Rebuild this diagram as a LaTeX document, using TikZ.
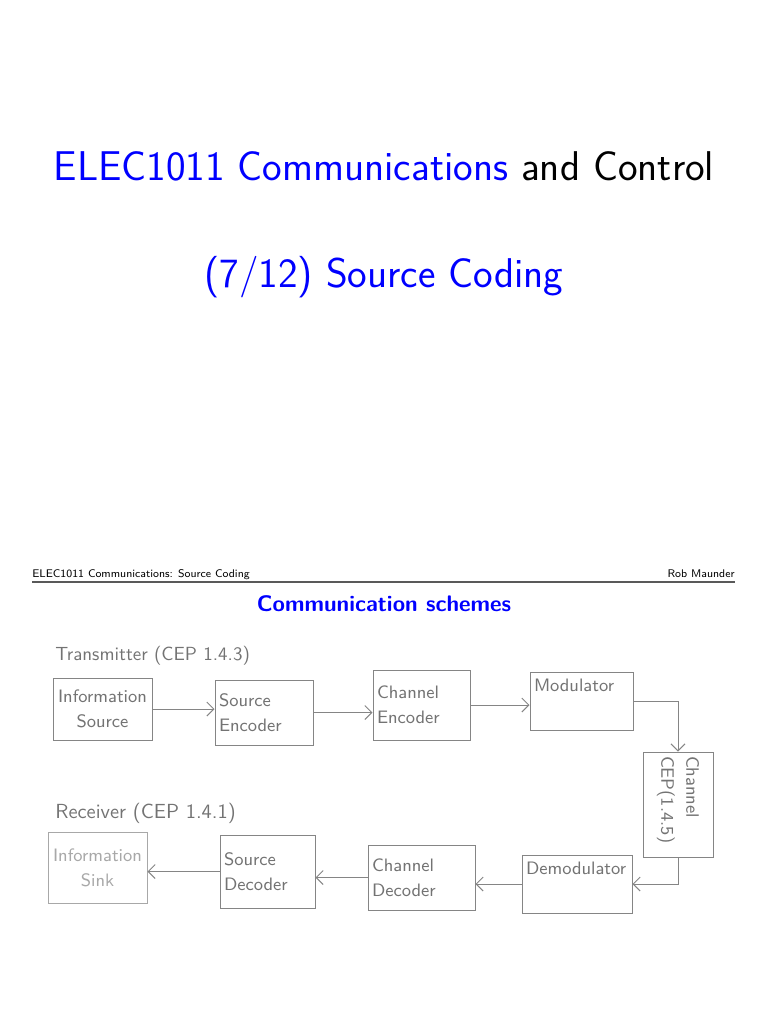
\documentclass[tikz,border=0pt]{standalone}
\usepackage{fontspec}
\usetikzlibrary{positioning,arrows.meta}
\definecolor{judul}{RGB}{0,0,255}
\definecolor{pensil}{gray}{0.45}
\definecolor{garis}{gray}{0.52}
\definecolor{pudar}{gray}{0.66}
\tikzset{
  blok/.style={draw=garis, line width=0.5pt, text=pensil, align=left,
    font=\sffamily\fontsize{9}{12.5}\selectfont, inner sep=2pt},
  panah/.style={-{Straight Barb[length=3.5pt,width=7pt]}, draw=garis, line width=0.5pt},
  tulisan/.style={anchor=base west, inner sep=0pt, text=pensil},
}
\begin{document}
\begin{tikzpicture}[x=0.5pt,y=-0.5pt]
    \useasboundingbox (0,0) rectangle (768,1024);

    % Judul halaman pertama
    \node[anchor=base, font=\sffamily\fontsize{20.8}{24}\selectfont] (judulA) at (384,180)
        {\textcolor{judul}{ELEC1011 Communications} and Control};
    \node[anchor=base, text=judul, font=\sffamily\fontsize{20.8}{24}\selectfont] (judulB) at (384,287)
        {(7/12) Source Coding};

    % Kepala halaman kedua
    \node[anchor=base west, inner sep=0pt, font=\sffamily\fontsize{5.55}{7}\selectfont] (kepKiri) at (32,577)
        {ELEC1011 Communications: Source Coding};
    \node[anchor=base east, inner sep=0pt, font=\sffamily\fontsize{5.55}{7}\selectfont] (kepKanan) at (735,577)
        {Rob Maunder};
    \draw[line width=0.8pt, black!65] (32,582) -- (735,582);
    \node[anchor=base, text=judul, font=\sffamily\bfseries\fontsize{11.25}{13}\selectfont] (judulC) at (384,611)
        {Communication schemes};

    % Tulisan tangan
    \node[tulisan, font=\sffamily\fontsize{9.5}{12}\selectfont] (tx) at (55,660) {Transmitter (CEP 1.4.3)};
    \node[tulisan, font=\sffamily\fontsize{10.2}{12}\selectfont] (rx) at (55,818) {Receiver (CEP 1.4.1)};

    % Kotak pemancar
    \node[blok, align=center, text width=45.5pt, minimum height=31pt] (isrc) at (102.5,709) {Information\\Source};
    \node[blok, text width=45pt, minimum height=32.5pt] (senc) at (264,712.5) {Source\\Encoder};
    \node[blok, text width=44.5pt, minimum height=35pt] (cenc) at (421.5,705) {Channel\\Encoder};
    \node[blok, text width=47.5pt, minimum height=29pt] (mod) at (581.5,701) {Modulator\\\strut};

    % Kotak kanal (diputar, jadi west = atas, east = bawah)
    \node[blok, rotate=-90, text width=48.5pt, minimum height=35pt] (chan) at (678,804.5) {Channel\\CEP(1.4.5)};

    % Kotak penerima
    \node[blok, text width=51pt, minimum height=29pt] (demod) at (577,884) {Demodulator\\\strut};
    \node[blok, text width=49.5pt, minimum height=32.5pt] (cdec) at (421.5,877.5) {Channel\\Decoder};
    \node[blok, text width=43.5pt, minimum height=36.5pt] (sdec) at (267.5,871.5) {Source\\Decoder};
    \node[blok, draw=pudar, text=pudar, align=center, text width=45.5pt, minimum height=35.5pt] (sink) at (97.5,867.5) {Information\\Sink};

    % Panah-panah
    \draw[panah] (isrc.east) -- (isrc.east -| senc.west);
    \draw[panah] (senc.east) -- (senc.east -| cenc.west);
    \draw[panah] (cenc.east) -- (cenc.east -| mod.west);
    \draw[panah] (mod.east) -| (chan.west);
    \draw[panah] (chan.east) |- (demod.east);
    \draw[panah] (demod.west) -- (demod.west -| cdec.east);
    \draw[panah] (cdec.west) -- (cdec.west -| sdec.east);
    \draw[panah] (sdec.west) -- (sdec.west -| sink.east);

\end{tikzpicture}
\end{document}
